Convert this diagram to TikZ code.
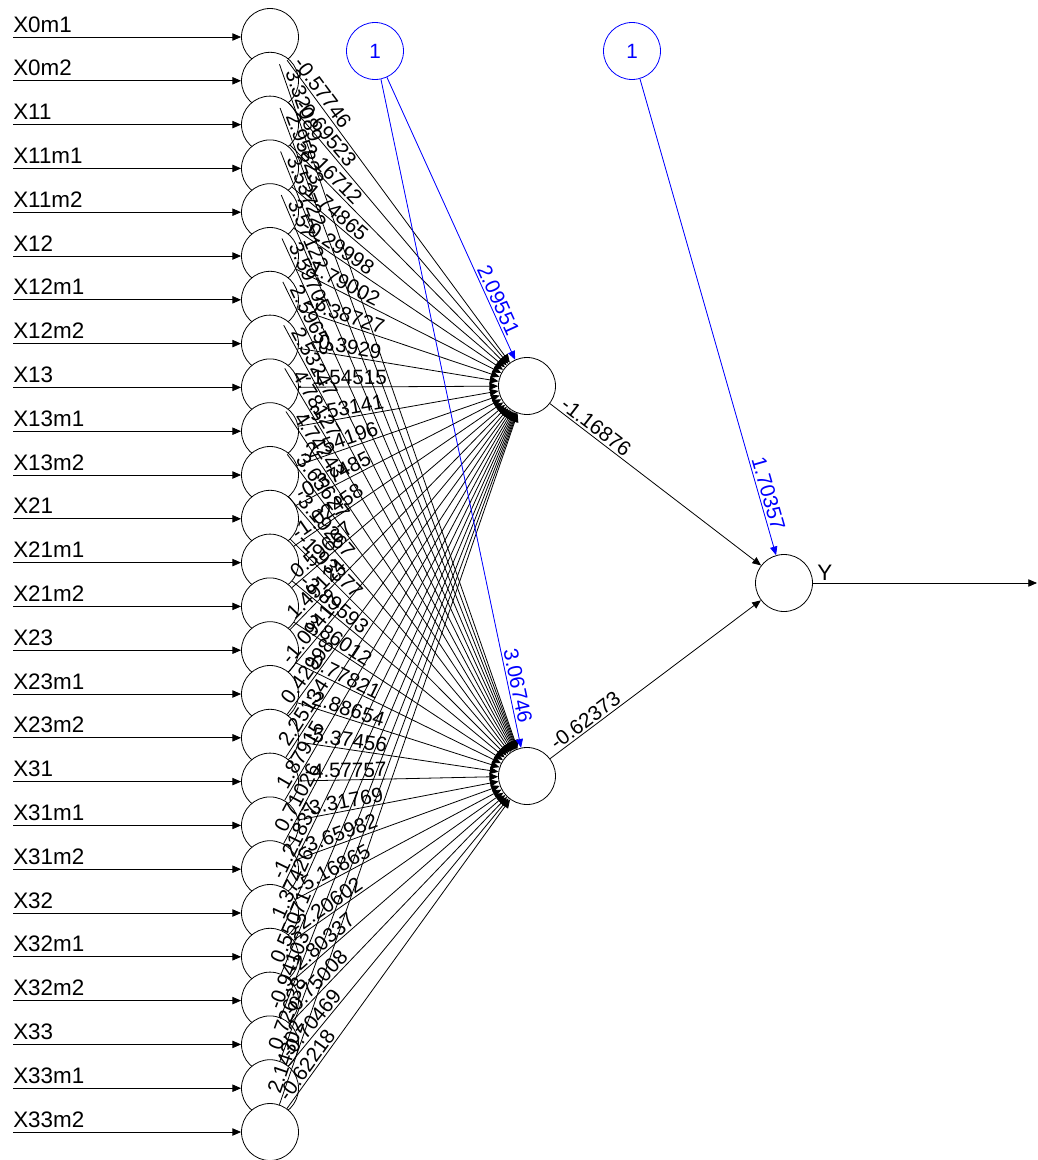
\documentclass[tikz,border=0pt]{standalone}
\usepackage{fontspec}
\setmainfont{Liberation Sans}
\usetikzlibrary{calc,arrows.meta}
\begin{document}
\begin{tikzpicture}[x=0.75pt,y=-0.75pt,
  neuron/.style={circle,draw=black,fill=white,line width=0.6pt,minimum size=42.75pt,inner sep=0pt},
  biasnode/.style={circle,draw=blue,fill=white,line width=0.6pt,minimum size=42.75pt,inner sep=0pt,text=blue,font=\fontsize{15.5}{18}\selectfont},
  syn/.style={line width=0.6pt,-{Triangle[length=6.5pt,width=5.5pt]}},
  bsyn/.style={syn,draw=blue,fill=blue},
  wlab/.style={sloped,above=1.5pt,inner sep=0pt,font=\fontsize{15.5}{18}\selectfont},
  inlab/.style={anchor=base west,inner sep=0pt,font=\fontsize{16.8}{19}\selectfont}
]
\useasboundingbox (0,0) rectangle (1038,1160);
% input neurons
\foreach \n [count=\c from 0] in {X0m1,X0m2,X11,X11m1,X11m2,X12,X12m1,X12m2,X13,X13m1,X13m2,X21,X21m1,X21m2,X23,X23m1,X23m2,X31,X31m1,X31m2,X32,X32m1,X32m2,X33,X33m1,X33m2} {
  \pgfmathsetmacro\yy{37+\c*43.8}
  \node[neuron] (i\c) at (270,\yy) {};
  \coordinate (s\c) at (13,\yy);
  \node[inlab] (t\c) at (13,\yy-5) {\n};
}
% hidden, output, bias
\node[neuron] (h1) at (527,386) {};
\node[neuron] (h2) at (527,776) {};
\node[neuron] (o) at (784,583) {};
\node[biasnode] (b1) at (375,51) {1};
\node[biasnode] (b2) at (632,51) {1};
\coordinate (e) at (1037,583);
\node[inlab] (ylab) at (817,580) {Y};
% synapses
\foreach \c in {0,...,25} {
  \draw[syn] (s\c) -- (i\c);
  \draw[syn] (i\c) -- (h1);
  \draw[syn] (i\c) -- (h2);
}
\draw[syn] (h1) -- (o);
\draw[syn] (h2) -- (o);
\draw[syn] (o) -- (e);
\draw[bsyn] (b1) -- (h1);
\draw[bsyn] (b1) -- (h2);
\draw[bsyn] (b2) -- (o);
% weight labels
\foreach \c/\a/\b in {0/-0.57746/3.32089,1/-0.69523/2.95823,2/-2.16712/3.53722,3/-1.74865/3.57122,4/-0.29998/3.59705,5/-1.79002/2.59653,6/-7.38727/2.53247,7/-0.3929/4.78127,8/-1.54515/4.74243,9/-3.53141/3.65627,10/-2.54196/3.19267,11/-0.37485/-1.93377,12/-1.02458/-3.89593,13/0.59667/3.86012,14/1.49124/-0.77821,15/-1.09417/-2.88654,16/0.42998/-5.37456,17/2.25134/-4.57757,18/1.87915/-3.31769,19/0.71026/-3.65982,20/-1.21837/-5.16865,21/1.37426/-2.20602,22/0.55071/-2.80337,23/-0.94103/-0.75008,24/0.72638/-0.70469,25/2.14302/-0.62218} {
  \path ($(i\c)!57pt!(h1)$) -- (h1) node[pos=0,wlab] (wa\c) {\a};
  \path ($(i\c)!57pt!(h2)$) -- (h2) node[pos=0,wlab] (wb\c) {\b};
}
\path ($(h1)!60pt!(o)$) -- (o) node[pos=0,wlab] (wo1) {-1.16876};
\path ($(h2)!60pt!(o)$) -- (o) node[pos=0,wlab] (wo2) {-0.62373};
\path (b1) -- ($(h1)!67.5pt!(b1)$) node[pos=1,wlab,text=blue] (wc1) {2.09551};
\path (b1) -- ($(h2)!67.5pt!(b1)$) node[pos=1,wlab,text=blue] (wc2) {3.06746};
\path (b2) -- ($(o)!67.5pt!(b2)$) node[pos=1,wlab,text=blue] (wc3) {1.70357};
\end{tikzpicture}
\end{document}
